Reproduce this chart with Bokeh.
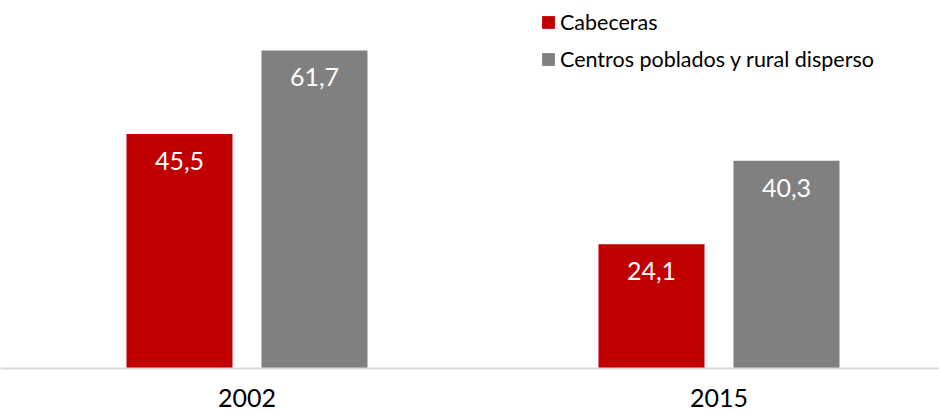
from bokeh.plotting import figure
from bokeh.models import ColumnDataSource, Range1d, FixedTicker, Legend, LegendItem, LabelSet
from bokeh.transform import dodge
from bokeh.core.properties import value
from bokeh.embed import file_html
from bokeh.resources import INLINE

# ---- data ----
years = ["2002", "2015"]
series_names = ["Cabeceras", "Centros poblados y rural disperso"]
cabeceras = [45.5, 24.1]
centros = [61.7, 40.3]
colors = ["#C00000", "#808080"]

FONT = "Lato"
xs = list(range(len(years)))

src_a = ColumnDataSource(dict(x=xs, top=cabeceras,
                              lbl=[f"{v:.1f}".replace(".", ",") for v in cabeceras]))
src_b = ColumnDataSource(dict(x=xs, top=centros,
                              lbl=[f"{v:.1f}".replace(".", ",") for v in centros]))

p = figure(width=939, height=410, output_backend="svg", toolbar_location=None,
           x_range=Range1d(-0.5222, 1.4672), y_range=Range1d(0, 71.4),
           y_axis_location=None,
           min_border_left=0, min_border_right=0, min_border_top=0, min_border_bottom=42)
p.outline_line_color = None
p.grid.visible = False
p.background_fill_color = "white"
p.border_fill_color = "white"

off = 0.143
bw = 0.2246
r1 = p.vbar(x=dodge("x", -off, range=p.x_range), top="top", bottom=0, width=bw,
            source=src_a, fill_color=colors[0], line_color=None)
r2 = p.vbar(x=dodge("x", off, range=p.x_range), top="top", bottom=0, width=bw,
            source=src_b, fill_color=colors[1], line_color=None)

for src, dx in ((src_a, -off), (src_b, off)):
    p.add_layout(LabelSet(x=dodge("x", dx, range=p.x_range), y="top", text="lbl", source=src,
                          text_align="center", text_baseline="middle", y_offset=-27,
                          text_color="white", text_font=value(FONT), text_font_size="25px"))

ax = p.xaxis[0]
ax.ticker = FixedTicker(ticks=xs)
ax.major_label_overrides = {i: y for i, y in enumerate(years)}
ax.major_tick_line_color = None
ax.minor_tick_line_color = None
ax.major_tick_out = 0
ax.major_tick_in = 0
ax.axis_line_color = "#d9d9d9"
ax.axis_line_width = 2
ax.major_label_standoff = 20
ax.major_label_text_font = FONT
ax.major_label_text_font_size = "25px"
ax.major_label_text_color = "#000000"

legend = Legend(items=[LegendItem(label=series_names[0], renderers=[r1]),
                       LegendItem(label=series_names[1], renderers=[r2])],
                location=(540, 296),
                glyph_width=16, glyph_height=16, label_standoff=4,
                label_height=20, spacing=11, padding=0, margin=0,
                label_text_font=FONT, label_text_font_size="21.5px",
                label_text_color="#000000",
                border_line_color=None, background_fill_alpha=0)
p.add_layout(legend)

open("out.html", "w").write(file_html(p, INLINE))
